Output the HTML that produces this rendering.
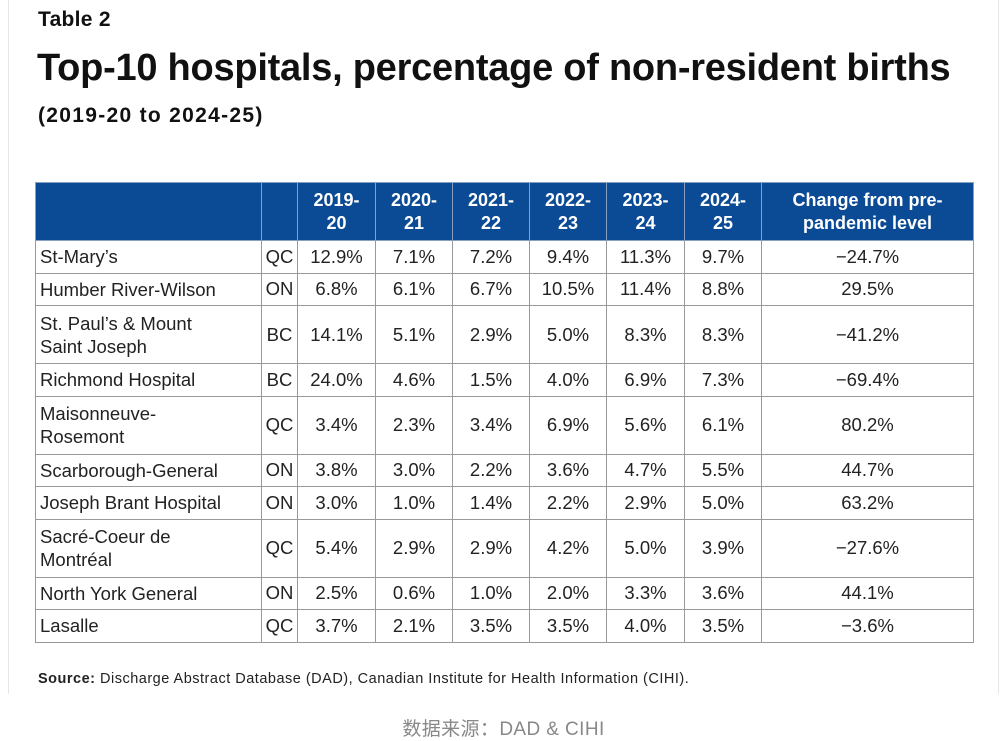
<!DOCTYPE html>
<html><head><meta charset="utf-8"><style>
body{margin:0;width:1007px;height:741px;background:#fff;position:relative;font-family:"Liberation Sans",sans-serif;color:#222;overflow:hidden}
.vl{position:absolute;top:0;width:1px;height:694px;background:#e6e6e6}
.t1{position:absolute;left:38px;top:8px;font-size:21px;font-weight:bold;color:#111;letter-spacing:0.3px}
.t2{position:absolute;left:37px;top:47px;font-size:38px;font-weight:bold;color:#111;letter-spacing:-0.25px}
.t3{position:absolute;left:38px;top:104px;font-size:21px;font-weight:bold;color:#111;letter-spacing:1.3px}
table{position:absolute;left:35px;top:182px;border-collapse:collapse;table-layout:fixed;font-size:18.5px}
td,th{border:1.5px solid #999;padding:0;text-align:center;overflow:hidden}
th{background:#0b4a94;color:#fff;font-size:18px;line-height:23px;border-color:#8aa0c0}
td.n{text-align:left;padding-left:4px;line-height:23px}
.src{position:absolute;left:38px;top:671px;font-size:14.5px;color:#222;letter-spacing:0.5px}
.cap{position:absolute;left:0;width:1007px;text-align:center;top:714px;font-size:19px;color:#888;letter-spacing:0.4px;font-family:"Liberation Sans","Noto Sans CJK SC",sans-serif}
</style></head><body>
<div class="vl" style="left:8px"></div>
<div class="vl" style="left:998px"></div>
<div class="t1">Table 2</div>
<div class="t2">Top-10 hospitals, percentage of non-resident births</div>
<div class="t3">(2019-20 to 2024-25)</div>
<table>
<colgroup><col style="width:226px"><col style="width:36px"><col style="width:78px"><col style="width:77px"><col style="width:77px"><col style="width:77px"><col style="width:78px"><col style="width:77px"><col style="width:212px"></colgroup>
<tr style="height:58px"><th></th><th></th><th>2019-<br>20</th><th>2020-<br>21</th><th>2021-<br>22</th><th>2022-<br>23</th><th>2023-<br>24</th><th>2024-<br>25</th><th>Change from pre-<br>pandemic level</th></tr>
<tbody id="tb"></tbody>
</table>
<div class="src"><b>Source:</b> Discharge Abstract Database (DAD), Canadian Institute for Health Information (CIHI).</div>
<div class="cap">数据来源：DAD &amp; CIHI</div>
<script>
const hospitals=["St-Mary’s","Humber River-Wilson","St. Paul’s &amp; Mount<br>Saint Joseph","Richmond Hospital","Maisonneuve-<br>Rosemont","Scarborough-General","Joseph Brant Hospital","Sacré-Coeur de<br>Montréal","North York General","Lasalle"];
const provinces=["QC","ON","BC","BC","QC","ON","ON","QC","ON","QC"];
const y1920=["12.9%","6.8%","14.1%","24.0%","3.4%","3.8%","3.0%","5.4%","2.5%","3.7%"];
const y2021=["7.1%","6.1%","5.1%","4.6%","2.3%","3.0%","1.0%","2.9%","0.6%","2.1%"];
const y2122=["7.2%","6.7%","2.9%","1.5%","3.4%","2.2%","1.4%","2.9%","1.0%","3.5%"];
const y2223=["9.4%","10.5%","5.0%","4.0%","6.9%","3.6%","2.2%","4.2%","2.0%","3.5%"];
const y2324=["11.3%","11.4%","8.3%","6.9%","5.6%","4.7%","2.9%","5.0%","3.3%","4.0%"];
const y2425=["9.7%","8.8%","8.3%","7.3%","6.1%","5.5%","5.0%","3.9%","3.6%","3.5%"];
const change=["−24.7%","29.5%","−41.2%","−69.4%","80.2%","44.7%","63.2%","−27.6%","44.1%","−3.6%"];
const tb=document.getElementById('tb');
hospitals.forEach((h,i)=>{
 const tr=document.createElement('tr');
 
 
 tr.style.height=(h.includes('<br>')?58:32.5)+'px';
 tr.innerHTML='<td class="n">'+h+'</td><td>'+provinces[i]+'</td><td>'+y1920[i]+'</td><td>'+y2021[i]+'</td><td>'+y2122[i]+'</td><td>'+y2223[i]+'</td><td>'+y2324[i]+'</td><td>'+y2425[i]+'</td><td>'+change[i]+'</td>';
 tb.appendChild(tr);
});
</script>
</body></html>
